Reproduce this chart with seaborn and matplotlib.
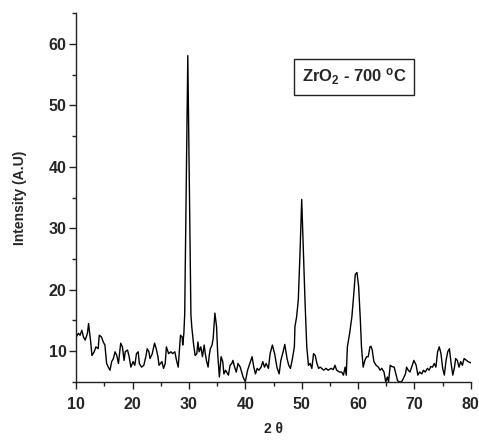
import matplotlib
matplotlib.use('Agg')
import matplotlib.pyplot as plt
from matplotlib.ticker import MultipleLocator
import numpy as np
import pandas as pd
import seaborn as sns

# XRD pattern (2 theta in degrees, intensity in a.u.)
two_theta = [10.0, 10.4, 10.7, 11.0, 11.3, 11.6, 12.0, 12.2, 12.6, 12.8, 13.2, 13.5, 13.9, 14.1,
             14.5, 14.8, 15.1, 15.4, 15.7, 16.0, 16.3, 16.6, 16.9, 17.2, 17.5, 17.9, 18.2, 18.5,
             18.7, 19.1, 19.4, 19.7, 20.1, 20.4, 20.7, 21.0, 21.2, 21.6, 22.0, 22.4, 22.6, 22.9,
             23.1, 23.5, 23.9, 24.2, 24.5, 24.7, 25.2, 25.5, 25.8, 26.0, 26.4, 26.8, 27.1, 27.5,
             27.8, 28.1, 28.5, 28.8, 28.9, 29.1, 29.25, 29.8, 30.35, 30.5, 30.8, 31.1, 31.4, 31.6,
             31.8, 32.1, 32.4, 32.7, 32.9, 33.1, 33.4, 33.6, 33.8, 34.1, 34.3, 34.6, 34.9, 35.1,
             35.4, 35.7, 36.0, 36.2, 36.5, 37.0, 37.3, 37.6, 37.8, 38.1, 38.4, 38.7, 39.1, 39.6,
             40.0, 40.4, 40.8, 41.2, 41.5, 41.8, 42.1, 42.4, 42.8, 43.1, 43.4, 43.7, 44.1, 44.4,
             44.8, 45.2, 45.6, 46.0, 46.3, 46.7, 47.0, 47.4, 47.7, 48.0, 48.3, 48.7, 48.8, 49.1,
             49.4, 49.7, 50.0, 50.3, 50.6, 50.9, 51.2, 51.5, 51.8, 52.1, 52.4, 52.7, 53.0, 53.3,
             53.9, 54.3, 54.7, 55.2, 55.6, 55.9, 56.2, 56.7, 57.1, 57.4, 57.7, 57.9, 58.1, 58.5,
             58.9, 59.2, 59.5, 59.8, 60.1, 60.4, 60.6, 60.9, 61.2, 61.5, 61.8, 62.1, 62.3, 62.5,
             62.8, 63.2, 63.6, 63.9, 64.2, 64.6, 64.9, 65.2, 65.4, 65.7, 66.0, 66.4, 66.7, 67.0,
             67.3, 67.7, 68.0, 68.4, 68.6, 68.9, 69.2, 69.5, 69.9, 70.3, 70.6, 70.9, 71.3, 71.6,
             71.9, 72.3, 72.6, 72.9, 73.2, 73.5, 73.8, 74.1, 74.4, 74.7, 75.0, 75.3, 75.6, 75.9,
             76.2, 76.5, 76.8, 77.1, 77.3, 77.6, 77.9, 78.2, 78.5, 78.8, 79.1, 79.5, 80.0]
intensity = [12.3, 12.9, 12.6, 13.4, 12.3, 11.8, 12.9, 14.5, 11.3, 9.3, 9.9, 10.7, 10.4, 12.6,
             12.3, 11.5, 11.0, 8.0, 7.4, 6.9, 8.3, 8.8, 9.9, 9.3, 8.0, 11.3, 10.7, 8.5,
             9.9, 10.2, 9.1, 7.4, 8.3, 7.7, 9.6, 9.9, 8.0, 7.4, 7.7, 9.3, 10.4, 9.9,
             8.8, 9.6, 11.3, 10.4, 9.1, 7.7, 8.3, 7.2, 8.0, 10.7, 9.6, 9.9, 9.6, 9.9,
             8.5, 7.4, 12.6, 12.3, 11.0, 12.9, 16.0, 58.1, 16.0, 14.0, 11.3, 9.3, 9.6, 11.5,
             9.9, 10.7, 9.1, 11.0, 9.6, 8.5, 7.4, 9.3, 10.4, 11.0, 12.1, 16.2, 14.0, 9.6,
             5.8, 9.1, 8.3, 6.3, 6.9, 6.1, 7.7, 8.0, 8.5, 7.4, 6.6, 8.0, 7.4, 5.8,
             5.0, 6.9, 8.0, 9.1, 7.4, 6.3, 7.2, 6.9, 7.4, 8.3, 7.4, 8.0, 7.2, 9.6,
             11.0, 9.6, 7.4, 6.3, 8.5, 9.9, 11.1, 8.8, 7.7, 7.2, 8.5, 10.7, 14.0, 15.6,
             18.4, 26.0, 34.7, 26.0, 17.8, 10.7, 7.7, 8.0, 7.2, 9.6, 9.3, 8.0, 7.2, 7.4,
             6.9, 7.2, 6.9, 7.2, 7.0, 7.7, 6.9, 6.6, 6.6, 6.1, 7.4, 6.1, 10.7, 12.9,
             15.6, 18.9, 22.5, 22.8, 20.5, 15.1, 10.7, 7.4, 8.5, 9.1, 9.1, 10.7, 10.8, 10.2,
             8.3, 7.7, 7.4, 6.9, 7.2, 6.6, 5.0, 5.8, 5.0, 7.7, 7.5, 7.4, 6.3, 5.2,
             5.0, 5.0, 5.5, 6.3, 7.4, 6.9, 6.6, 7.4, 8.5, 7.7, 6.1, 6.6, 6.3, 6.9,
             6.6, 7.2, 6.9, 7.5, 7.4, 8.0, 7.4, 9.9, 10.7, 9.6, 7.2, 6.1, 8.5, 9.9,
             10.4, 8.0, 6.1, 7.4, 8.8, 8.5, 7.4, 8.3, 7.7, 8.8, 8.6, 8.3, 8.1]

df = pd.DataFrame({'two_theta': two_theta, 'intensity': intensity})

sns.set_style('ticks')
plt.rcParams['font.family'] = ['Liberation Sans', 'DejaVu Sans']
plt.rcParams['font.weight'] = 'bold'
plt.rcParams['mathtext.fontset'] = 'custom'
plt.rcParams['mathtext.rm'] = 'Liberation Sans:bold'
plt.rcParams['mathtext.bf'] = 'Liberation Sans:bold'
plt.rcParams['mathtext.it'] = 'Liberation Sans:bold'

fig = plt.figure(figsize=(4.79, 4.42), dpi=100)
ax = fig.add_axes([0.159, 0.136, 0.824, 0.834])

sns.lineplot(data=df, x='two_theta', y='intensity', color='black', linewidth=1.0,
             estimator=None, ax=ax)

ax.set_xlim(10, 80)
ax.set_ylim(5, 65)
ax.xaxis.set_major_locator(MultipleLocator(10))
ax.xaxis.set_minor_locator(MultipleLocator(5))
ax.yaxis.set_major_locator(MultipleLocator(10))
ax.yaxis.set_minor_locator(MultipleLocator(5))
ax.set_yticks([10, 20, 30, 40, 50, 60])

for side in ['top', 'right']:
    ax.spines[side].set_visible(False)
for side in ['left', 'bottom']:
    ax.spines[side].set_linewidth(1.0)
    ax.spines[side].set_color('#222222')

ax.tick_params(which='major', length=5, width=1.0, color='#222222', labelsize=11.5)
ax.tick_params(which='minor', length=3, width=1.0, color='#222222')
ax.tick_params(axis='x', which='major', pad=6)
ax.tick_params(axis='y', which='major', pad=2)
for lab in ax.get_xticklabels() + ax.get_yticklabels():
    lab.set_fontweight('bold')

ax.set_xlabel('2 θ', fontsize=10, fontweight='bold', labelpad=7)
ax.set_ylabel('Intensity (A.U)', fontsize=10, fontweight='bold', labelpad=15.5)

ax.text(0.704, 0.827, r'ZrO$_2$ - 700 $^{\rm o}$C', transform=ax.transAxes,
        ha='center', va='center', fontsize=12, fontweight='bold',
        bbox=dict(boxstyle='square,pad=0.45', facecolor='white', edgecolor='#222222',
                  linewidth=1.0))

fig.savefig('out.png', dpi=100)
